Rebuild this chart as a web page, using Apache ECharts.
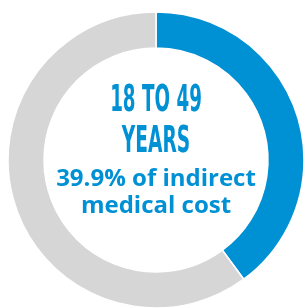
<!DOCTYPE html>
<html>
<head>
<meta charset="utf-8">
<script src="https://cdn.jsdelivr.net/npm/echarts@6/dist/echarts.min.js"></script>
<style>
  html, body { margin: 0; padding: 0; background: #fff; }
  #donut { width: 305px; height: 308px; }
</style>
</head>
<body>
<div id="donut"></div>
<script>
// 环形图数据
var names = ['18 to 49 years', 'Other'];
var values = [39.9, 60.1];
var colors = ['#0090d4', '#d6d6d6'];

// 中间文字
var headLines = ['18 TO 49', 'YEARS'];
var subLines = ['39.9% of indirect', 'medical cost'];

var chart = echarts.init(document.getElementById('donut'));

var blue = '#0090d4';
var headFont = 'bold 37px "DejaVu Sans Condensed", "DejaVu Sans", sans-serif';
var subFont = 'bold 24px "Open Sans", sans-serif';

var option = {
        animation: false,
        series: [
            {
                    type: 'pie',
                    center: [156, 160],
                    radius: [112, 148],
                    startAngle: 90,
                    clockwise: true,
                    silent: true,
                    label: { show: false },
                    labelLine: { show: false },
                    itemStyle: { borderColor: '#fff', borderWidth: 1.5 },
                    data: names.map(function (n, i) {
                            return { name: n, value: values[i], itemStyle: { color: colors[i] } };
                    })
            }
        ],
        graphic: [
            {
                    type: 'text', x: 156, y: 101, scaleX: 0.55,
                    style: { text: headLines[0], fill: blue, font: headFont, textAlign: 'center', textVerticalAlign: 'middle' }
            },
            {
                    type: 'text', x: 156, y: 142, scaleX: 0.56,
                    style: { text: headLines[1], fill: blue, font: headFont, textAlign: 'center', textVerticalAlign: 'middle' }
            },
            {
                    type: 'text', x: 156, y: 179,
                    style: { text: subLines[0], fill: blue, font: subFont, textAlign: 'center', textVerticalAlign: 'middle' }
            },
            {
                    type: 'text', x: 156, y: 206,
                    style: { text: subLines[1], fill: blue, font: subFont, textAlign: 'center', textVerticalAlign: 'middle' }
            }
        ]
};

chart.setOption(option);
</script>
</body>
</html>
